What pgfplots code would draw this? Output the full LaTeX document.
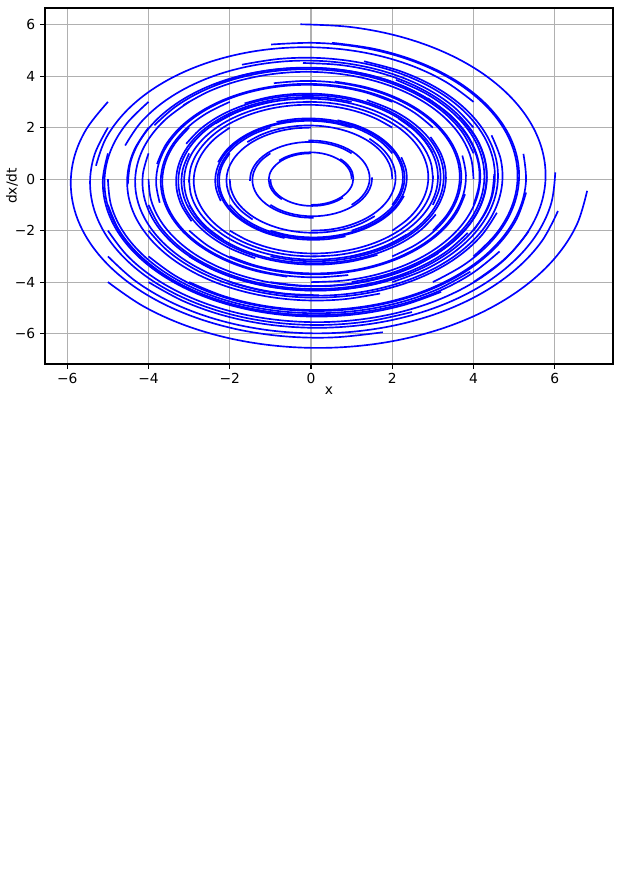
\documentclass[border=0pt]{standalone}
\usepackage{fontspec}
\setmainfont{DejaVu Sans}
\usepackage{pgfplots}
\pgfplotsset{compat=1.18}
\pgfplotsset{arcst/.style={data cs=polar, color=blue, line width=1.2pt, smooth, tension=0.6, no markers}}
\newcommand{\arc}[1]{\addplot[arcst] coordinates {#1};}
\begin{document}
\begin{tikzpicture}
\path[use as bounding box] (0,0) rectangle (6.24in,8.7in);
\begin{axis}[
  at={(0.45in,5.06in)}, anchor=south west,
  scale only axis, width=5.68in, height=3.56in,
  xmin=-6.549, xmax=7.434, ymin=-7.18, ymax=6.646,
  xtick={-6,-4,-2,0,2,4,6}, xticklabels={−6,−4,−2,0,2,4,6},
  ytick={-6,-4,-2,0,2,4,6}, yticklabels={−6,−4,−2,0,2,4,6},
  tick pos=left, tick align=outside, major tick length=3.5pt,
  tick style={black, line width=0.8pt},
  axis line style={black, line width=0.8pt},
  grid=major, major grid style={color=black!31, line width=0.8pt},
  ticklabel style={font=\fontsize{10}{12}\selectfont},
  label style={font=\fontsize{10}{12}\selectfont},
  xlabel={x}, ylabel={dx/dt},
  every axis x label/.style={at={(axis description cs:0.5,-0.076)}, anchor=center},
  every axis y label/.style={at={(axis description cs:-0.058,0.5)}, rotate=90, anchor=center},
]
\arc{(218.66,6.403) (230.12,6.436) (241.58,6.470) (253.04,6.503) (264.50,6.537) (275.96,6.571) (287.41,6.605) (298.87,6.639) (310.33,6.673) (321.79,6.708) (333.25,6.743) (344.71,6.778) (356.17,6.813)}
\arc{(210.96,5.831) (222.42,5.861) (233.88,5.892) (245.34,5.922) (256.80,5.953) (268.26,5.984) (279.71,6.015) (291.17,6.046) (302.63,6.077) (314.09,6.109) (325.55,6.140) (337.01,6.172) (348.47,6.204)}
\arc{(201.80,5.385) (213.26,5.413) (224.72,5.441) (236.18,5.469) (247.64,5.498) (259.10,5.526) (270.55,5.555) (282.01,5.584) (293.47,5.613) (304.93,5.642) (316.39,5.671) (327.85,5.700) (339.31,5.730)}
\arc{(191.31,5.099) (202.77,5.125) (214.23,5.152) (225.69,5.179) (237.15,5.206) (248.61,5.233) (260.06,5.260) (271.52,5.287) (282.98,5.314) (294.44,5.342) (305.90,5.370) (317.36,5.397) (328.82,5.425)}
\arc{(180,5) (191.46,5.026) (202.92,5.052) (214.38,5.078) (225.84,5.104) (237.30,5.131) (248.75,5.158) (260.21,5.184) (271.67,5.211) (283.13,5.238) (294.59,5.265) (306.05,5.293) (317.51,5.320)}
\arc{(168.69,5.099) (180.15,5.125) (191.61,5.152) (203.07,5.179) (214.53,5.206) (225.99,5.233) (237.44,5.260) (248.90,5.287) (260.36,5.314) (271.82,5.342) (283.28,5.370) (294.74,5.397) (306.20,5.425)}
\arc{(158.20,5.385) (169.66,5.413) (181.12,5.441) (192.58,5.469) (204.04,5.498) (215.50,5.526) (226.95,5.555) (238.41,5.584) (249.87,5.613) (261.33,5.642) (272.79,5.671) (284.25,5.700) (295.71,5.730)}
\arc{(149.04,5.831) (160.50,5.861) (171.96,5.892) (183.42,5.922) (194.88,5.953) (206.34,5.984) (217.79,6.015) (229.25,6.046) (240.71,6.077) (252.17,6.109) (263.63,6.140) (275.09,6.172) (286.55,6.204)}
\arc{(225,5.657) (236.46,5.686) (247.92,5.716) (259.38,5.745) (270.84,5.775) (282.30,5.805) (293.75,5.835) (305.21,5.865) (316.67,5.896) (328.13,5.926) (339.59,5.957) (351.05,5.988) (362.51,6.019)}
\arc{(216.87,5) (228.33,5.026) (239.79,5.052) (251.25,5.078) (262.71,5.104) (274.17,5.131) (285.62,5.158) (297.08,5.184) (308.54,5.211) (320.00,5.238) (331.46,5.265) (342.92,5.293) (354.38,5.320)}
\arc{(206.57,4.472) (218.03,4.495) (229.49,4.519) (240.95,4.542) (252.41,4.566) (263.87,4.589) (275.32,4.613) (286.78,4.637) (298.24,4.661) (309.70,4.685) (321.16,4.709) (332.62,4.734) (344.08,4.758)}
\arc{(194.04,4.123) (205.50,4.144) (216.96,4.166) (228.42,4.188) (239.88,4.209) (251.34,4.231) (262.79,4.253) (274.25,4.275) (285.71,4.297) (297.17,4.319) (308.63,4.342) (320.09,4.364) (331.55,4.387)}
\arc{(180,4) (191.46,4.021) (202.92,4.042) (214.38,4.062) (225.84,4.084) (237.30,4.105) (248.75,4.126) (260.21,4.147) (271.67,4.169) (283.13,4.190) (294.59,4.212) (306.05,4.234) (317.51,4.256)}
\arc{(165.96,4.123) (177.42,4.144) (188.88,4.166) (200.34,4.188) (211.80,4.209) (223.26,4.231) (234.71,4.253) (246.17,4.275) (257.63,4.297) (269.09,4.319) (280.55,4.342) (292.01,4.364) (303.47,4.387)}
\arc{(153.43,4.472) (164.89,4.495) (176.35,4.519) (187.81,4.542) (199.27,4.566) (210.73,4.589) (222.18,4.613) (233.64,4.637) (245.10,4.661) (256.56,4.685) (268.02,4.709) (279.48,4.734) (290.94,4.758)}
\arc{(143.13,5) (154.59,5.026) (166.05,5.052) (177.51,5.078) (188.97,5.104) (200.43,5.131) (211.88,5.158) (223.34,5.184) (234.80,5.211) (246.26,5.238) (257.72,5.265) (269.18,5.293) (280.64,5.320)}
\arc{(233.13,5) (244.59,5.026) (256.05,5.052) (267.51,5.078) (278.97,5.104) (290.43,5.131) (301.88,5.158) (313.34,5.184) (324.80,5.211) (336.26,5.238) (347.72,5.265) (359.18,5.293) (370.64,5.320)}
\arc{(225,4.243) (236.46,4.265) (247.92,4.287) (259.38,4.309) (270.84,4.331) (282.30,4.354) (293.75,4.376) (305.21,4.399) (316.67,4.422) (328.13,4.445) (339.59,4.468) (351.05,4.491) (362.51,4.514)}
\arc{(213.69,3.606) (225.15,3.624) (236.61,3.643) (248.07,3.662) (259.53,3.681) (270.99,3.700) (282.44,3.719) (293.90,3.738) (305.36,3.758) (316.82,3.777) (328.28,3.797) (339.74,3.817) (351.20,3.836)}
\arc{(198.43,3.162) (209.89,3.179) (221.35,3.195) (232.81,3.212) (244.27,3.228) (255.73,3.245) (267.18,3.262) (278.64,3.279) (290.10,3.296) (301.56,3.313) (313.02,3.330) (324.48,3.347) (335.94,3.365)}
\arc{(180,3) (191.46,3.016) (202.92,3.031) (214.38,3.047) (225.84,3.063) (237.30,3.079) (248.75,3.095) (260.21,3.111) (271.67,3.127) (283.13,3.143) (294.59,3.159) (306.05,3.176) (317.51,3.192)}
\arc{(161.57,3.162) (173.03,3.179) (184.49,3.195) (195.95,3.212) (207.41,3.228) (218.87,3.245) (230.32,3.262) (241.78,3.279) (253.24,3.296) (264.70,3.313) (276.16,3.330) (287.62,3.347) (299.08,3.365)}
\arc{(146.31,3.606) (157.77,3.624) (169.23,3.643) (180.69,3.662) (192.15,3.681) (203.61,3.700) (215.06,3.719) (226.52,3.738) (237.98,3.758) (249.44,3.777) (260.90,3.797) (272.36,3.817) (283.82,3.836)}
\arc{(135,4.243) (146.46,4.265) (157.92,4.287) (169.38,4.309) (180.84,4.331) (192.30,4.354) (203.75,4.376) (215.21,4.399) (226.67,4.422) (238.13,4.445) (249.59,4.468) (261.05,4.491) (272.51,4.514)}
\arc{(243.43,4.472) (254.89,4.495) (266.35,4.519) (277.81,4.542) (289.27,4.566) (300.73,4.589) (312.18,4.613) (323.64,4.637) (335.10,4.661) (346.56,4.685) (358.02,4.709) (369.48,4.734) (380.94,4.758)}
\arc{(236.31,3.606) (247.77,3.624) (259.23,3.643) (270.69,3.662) (282.15,3.681) (293.61,3.700) (305.06,3.719) (316.52,3.738) (327.98,3.758) (339.44,3.777) (350.90,3.797) (362.36,3.817) (373.82,3.836)}
\arc{(225,2.828) (236.46,2.843) (247.92,2.858) (259.38,2.873) (270.84,2.888) (282.30,2.902) (293.75,2.918) (305.21,2.933) (316.67,2.948) (328.13,2.963) (339.59,2.978) (351.05,2.994) (362.51,3.009)}
\arc{(206.57,2.236) (218.03,2.248) (229.49,2.259) (240.95,2.271) (252.41,2.283) (263.87,2.295) (275.32,2.307) (286.78,2.318) (298.24,2.331) (309.70,2.343) (321.16,2.355) (332.62,2.367) (344.08,2.379)}
\arc{(180,2) (191.46,2.010) (202.92,2.021) (214.38,2.031) (225.84,2.042) (237.30,2.052) (248.75,2.063) (260.21,2.074) (271.67,2.084) (283.13,2.095) (294.59,2.106) (306.05,2.117) (317.51,2.128)}
\arc{(153.43,2.236) (164.89,2.248) (176.35,2.259) (187.81,2.271) (199.27,2.283) (210.73,2.295) (222.18,2.307) (233.64,2.318) (245.10,2.331) (256.56,2.343) (268.02,2.355) (279.48,2.367) (290.94,2.379)}
\arc{(135,2.828) (146.46,2.843) (157.92,2.858) (169.38,2.873) (180.84,2.888) (192.30,2.902) (203.75,2.918) (215.21,2.933) (226.67,2.948) (238.13,2.963) (249.59,2.978) (261.05,2.994) (272.51,3.009)}
\arc{(123.69,3.606) (135.15,3.624) (146.61,3.643) (158.07,3.662) (169.53,3.681) (180.99,3.700) (192.44,3.719) (203.90,3.738) (215.36,3.758) (226.82,3.777) (238.28,3.797) (249.74,3.817) (261.20,3.836)}
\arc{(255.96,4.123) (267.42,4.144) (278.88,4.166) (290.34,4.188) (301.80,4.209) (313.26,4.231) (324.71,4.253) (336.17,4.275) (347.63,4.297) (359.09,4.319) (370.55,4.342) (382.01,4.364) (393.47,4.387)}
\arc{(251.57,3.162) (263.03,3.179) (274.49,3.195) (285.95,3.212) (297.41,3.228) (308.87,3.245) (320.32,3.262) (331.78,3.279) (343.24,3.296) (354.70,3.313) (366.16,3.330) (377.62,3.347) (389.08,3.365)}
\arc{(243.43,2.236) (254.89,2.248) (266.35,2.259) (277.81,2.271) (289.27,2.283) (300.73,2.295) (312.18,2.307) (323.64,2.318) (335.10,2.331) (346.56,2.343) (358.02,2.355) (369.48,2.367) (380.94,2.379)}
\arc{(225,1.414) (236.46,1.422) (247.92,1.429) (259.38,1.436) (270.84,1.444) (282.30,1.451) (293.75,1.459) (305.21,1.466) (316.67,1.474) (328.13,1.482) (339.59,1.489) (351.05,1.497) (362.51,1.505)}
\arc{(180,1) (191.46,1.005) (202.92,1.010) (214.38,1.016) (225.84,1.021) (237.30,1.026) (248.75,1.032) (260.21,1.037) (271.67,1.042) (283.13,1.048) (294.59,1.053) (306.05,1.059) (317.51,1.064)}
\arc{(135,1.414) (146.46,1.422) (157.92,1.429) (169.38,1.436) (180.84,1.444) (192.30,1.451) (203.75,1.459) (215.21,1.466) (226.67,1.474) (238.13,1.482) (249.59,1.489) (261.05,1.497) (272.51,1.505)}
\arc{(116.57,2.236) (128.03,2.248) (139.49,2.259) (150.95,2.271) (162.41,2.283) (173.87,2.295) (185.32,2.307) (196.78,2.318) (208.24,2.331) (219.70,2.343) (231.16,2.355) (242.62,2.367) (254.08,2.379)}
\arc{(108.43,3.162) (119.89,3.179) (131.35,3.195) (142.81,3.212) (154.27,3.228) (165.73,3.245) (177.18,3.262) (188.64,3.279) (200.10,3.296) (211.56,3.313) (223.02,3.330) (234.48,3.347) (245.94,3.365)}
\arc{(270,4) (281.46,4.021) (292.92,4.042) (304.38,4.062) (315.84,4.084) (327.30,4.105) (338.75,4.126) (350.21,4.147) (361.67,4.169) (373.13,4.190) (384.59,4.212) (396.05,4.234) (407.51,4.256)}
\arc{(270,3) (281.46,3.016) (292.92,3.031) (304.38,3.047) (315.84,3.063) (327.30,3.079) (338.75,3.095) (350.21,3.111) (361.67,3.127) (373.13,3.143) (384.59,3.159) (396.05,3.176) (407.51,3.192)}
\arc{(270,2) (281.46,2.010) (292.92,2.021) (304.38,2.031) (315.84,2.042) (327.30,2.052) (338.75,2.063) (350.21,2.074) (361.67,2.084) (373.13,2.095) (384.59,2.106) (396.05,2.117) (407.51,2.128)}
\arc{(270,1) (281.46,1.005) (292.92,1.010) (304.38,1.016) (315.84,1.021) (327.30,1.026) (338.75,1.032) (350.21,1.037) (361.67,1.042) (373.13,1.048) (384.59,1.053) (396.05,1.059) (407.51,1.064)}
\arc{(90,1) (101.46,1.005) (112.92,1.010) (124.38,1.016) (135.84,1.021) (147.30,1.026) (158.75,1.032) (170.21,1.037) (181.67,1.042) (193.13,1.048) (204.59,1.053) (216.05,1.059) (227.51,1.064)}
\arc{(90,2) (101.46,2.010) (112.92,2.021) (124.38,2.031) (135.84,2.042) (147.30,2.052) (158.75,2.063) (170.21,2.074) (181.67,2.084) (193.13,2.095) (204.59,2.106) (216.05,2.117) (227.51,2.128)}
\arc{(90,3) (101.46,3.016) (112.92,3.031) (124.38,3.047) (135.84,3.063) (147.30,3.079) (158.75,3.095) (170.21,3.111) (181.67,3.127) (193.13,3.143) (204.59,3.159) (216.05,3.176) (227.51,3.192)}
\arc{(284.04,4.123) (295.50,4.144) (306.96,4.166) (318.42,4.188) (329.88,4.209) (341.34,4.231) (352.79,4.253) (364.25,4.275) (375.71,4.297) (387.17,4.319) (398.63,4.342) (410.09,4.364) (421.55,4.387)}
\arc{(288.43,3.162) (299.89,3.179) (311.35,3.195) (322.81,3.212) (334.27,3.228) (345.73,3.245) (357.18,3.262) (368.64,3.279) (380.10,3.296) (391.56,3.313) (403.02,3.330) (414.48,3.347) (425.94,3.365)}
\arc{(296.57,2.236) (308.03,2.248) (319.49,2.259) (330.95,2.271) (342.41,2.283) (353.87,2.295) (365.32,2.307) (376.78,2.318) (388.24,2.331) (399.70,2.343) (411.16,2.355) (422.62,2.367) (434.08,2.379)}
\arc{(315,1.414) (326.46,1.422) (337.92,1.429) (349.38,1.436) (360.84,1.444) (372.30,1.451) (383.75,1.459) (395.21,1.466) (406.67,1.474) (418.13,1.482) (429.59,1.489) (441.05,1.497) (452.51,1.505)}
\arc{(0,1) (11.46,1.005) (22.92,1.010) (34.38,1.016) (45.84,1.021) (57.30,1.026) (68.75,1.032) (80.21,1.037) (91.67,1.042) (103.13,1.048) (114.59,1.053) (126.05,1.059) (137.51,1.064)}
\arc{(45,1.414) (56.46,1.422) (67.92,1.429) (79.38,1.436) (90.84,1.444) (102.30,1.451) (113.75,1.459) (125.21,1.466) (136.67,1.474) (148.13,1.482) (159.59,1.489) (171.05,1.497) (182.51,1.505)}
\arc{(63.43,2.236) (74.89,2.248) (86.35,2.259) (97.81,2.271) (109.27,2.283) (120.73,2.295) (132.18,2.307) (143.64,2.318) (155.10,2.331) (166.56,2.343) (178.02,2.355) (189.48,2.367) (200.94,2.379)}
\arc{(71.57,3.162) (83.03,3.179) (94.49,3.195) (105.95,3.212) (117.41,3.228) (128.87,3.245) (140.32,3.262) (151.78,3.279) (163.24,3.296) (174.70,3.313) (186.16,3.330) (197.62,3.347) (209.08,3.365)}
\arc{(296.57,4.472) (308.03,4.495) (319.49,4.519) (330.95,4.542) (342.41,4.566) (353.87,4.589) (365.32,4.613) (376.78,4.637) (388.24,4.661) (399.70,4.685) (411.16,4.709) (422.62,4.734) (434.08,4.758)}
\arc{(303.69,3.606) (315.15,3.624) (326.61,3.643) (338.07,3.662) (349.53,3.681) (360.99,3.700) (372.44,3.719) (383.90,3.738) (395.36,3.758) (406.82,3.777) (418.28,3.797) (429.74,3.817) (441.20,3.836)}
\arc{(315,2.828) (326.46,2.843) (337.92,2.858) (349.38,2.873) (360.84,2.888) (372.30,2.902) (383.75,2.918) (395.21,2.933) (406.67,2.948) (418.13,2.963) (429.59,2.978) (441.05,2.994) (452.51,3.009)}
\arc{(333.43,2.236) (344.89,2.248) (356.35,2.259) (367.81,2.271) (379.27,2.283) (390.73,2.295) (402.18,2.307) (413.64,2.318) (425.10,2.331) (436.56,2.343) (448.02,2.355) (459.48,2.367) (470.94,2.379)}
\arc{(0,2) (11.46,2.010) (22.92,2.021) (34.38,2.031) (45.84,2.042) (57.30,2.052) (68.75,2.063) (80.21,2.074) (91.67,2.084) (103.13,2.095) (114.59,2.106) (126.05,2.117) (137.51,2.128)}
\arc{(26.57,2.236) (38.03,2.248) (49.49,2.259) (60.95,2.271) (72.41,2.283) (83.87,2.295) (95.32,2.307) (106.78,2.318) (118.24,2.331) (129.70,2.343) (141.16,2.355) (152.62,2.367) (164.08,2.379)}
\arc{(45,2.828) (56.46,2.843) (67.92,2.858) (79.38,2.873) (90.84,2.888) (102.30,2.902) (113.75,2.918) (125.21,2.933) (136.67,2.948) (148.13,2.963) (159.59,2.978) (171.05,2.994) (182.51,3.009)}
\arc{(56.31,3.606) (67.77,3.624) (79.23,3.643) (90.69,3.662) (102.15,3.681) (113.61,3.700) (125.06,3.719) (136.52,3.738) (147.98,3.758) (159.44,3.777) (170.90,3.797) (182.36,3.817) (193.82,3.836)}
\arc{(306.87,5) (318.33,5.026) (329.79,5.052) (341.25,5.078) (352.71,5.104) (364.17,5.131) (375.62,5.158) (387.08,5.184) (398.54,5.211) (410.00,5.238) (421.46,5.265) (432.92,5.293) (444.38,5.320)}
\arc{(315,4.243) (326.46,4.265) (337.92,4.287) (349.38,4.309) (360.84,4.331) (372.30,4.354) (383.75,4.376) (395.21,4.399) (406.67,4.422) (418.13,4.445) (429.59,4.468) (441.05,4.491) (452.51,4.514)}
\arc{(326.31,3.606) (337.77,3.624) (349.23,3.643) (360.69,3.662) (372.15,3.681) (383.61,3.700) (395.06,3.719) (406.52,3.738) (417.98,3.758) (429.44,3.777) (440.90,3.797) (452.36,3.817) (463.82,3.836)}
\arc{(341.57,3.162) (353.03,3.179) (364.49,3.195) (375.95,3.212) (387.41,3.228) (398.87,3.245) (410.32,3.262) (421.78,3.279) (433.24,3.296) (444.70,3.313) (456.16,3.330) (467.62,3.347) (479.08,3.365)}
\arc{(0,3) (11.46,3.016) (22.92,3.031) (34.38,3.047) (45.84,3.063) (57.30,3.079) (68.75,3.095) (80.21,3.111) (91.67,3.127) (103.13,3.143) (114.59,3.159) (126.05,3.176) (137.51,3.192)}
\arc{(18.43,3.162) (29.89,3.179) (41.35,3.195) (52.81,3.212) (64.27,3.228) (75.73,3.245) (87.18,3.262) (98.64,3.279) (110.10,3.296) (121.56,3.313) (133.02,3.330) (144.48,3.347) (155.94,3.365)}
\arc{(33.69,3.606) (45.15,3.624) (56.61,3.643) (68.07,3.662) (79.53,3.681) (90.99,3.700) (102.44,3.719) (113.90,3.738) (125.36,3.758) (136.82,3.777) (148.28,3.797) (159.74,3.817) (171.20,3.836)}
\arc{(45,4.243) (56.46,4.265) (67.92,4.287) (79.38,4.309) (90.84,4.331) (102.30,4.354) (113.75,4.376) (125.21,4.399) (136.67,4.422) (148.13,4.445) (159.59,4.468) (171.05,4.491) (182.51,4.514)}
\arc{(315,5.657) (326.46,5.686) (337.92,5.716) (349.38,5.745) (360.84,5.775) (372.30,5.805) (383.75,5.835) (395.21,5.865) (406.67,5.896) (418.13,5.926) (429.59,5.957) (441.05,5.988) (452.51,6.019)}
\arc{(323.13,5) (334.59,5.026) (346.05,5.052) (357.51,5.078) (368.97,5.104) (380.43,5.131) (391.88,5.158) (403.34,5.184) (414.80,5.211) (426.26,5.238) (437.72,5.265) (449.18,5.293) (460.64,5.320)}
\arc{(333.43,4.472) (344.89,4.495) (356.35,4.519) (367.81,4.542) (379.27,4.566) (390.73,4.589) (402.18,4.613) (413.64,4.637) (425.10,4.661) (436.56,4.685) (448.02,4.709) (459.48,4.734) (470.94,4.758)}
\arc{(345.96,4.123) (357.42,4.144) (368.88,4.166) (380.34,4.188) (391.80,4.209) (403.26,4.231) (414.71,4.253) (426.17,4.275) (437.63,4.297) (449.09,4.319) (460.55,4.342) (472.01,4.364) (483.47,4.387)}
\arc{(0,4) (11.46,4.021) (22.92,4.042) (34.38,4.062) (45.84,4.084) (57.30,4.105) (68.75,4.126) (80.21,4.147) (91.67,4.169) (103.13,4.190) (114.59,4.212) (126.05,4.234) (137.51,4.256)}
\arc{(14.04,4.123) (25.50,4.144) (36.96,4.166) (48.42,4.188) (59.88,4.209) (71.34,4.231) (82.79,4.253) (94.25,4.275) (105.71,4.297) (117.17,4.319) (128.63,4.342) (140.09,4.364) (151.55,4.387)}
\arc{(26.57,4.472) (38.03,4.495) (49.49,4.519) (60.95,4.542) (72.41,4.566) (83.87,4.589) (95.32,4.613) (106.78,4.637) (118.24,4.661) (129.70,4.685) (141.16,4.709) (152.62,4.734) (164.08,4.758)}
\arc{(36.87,5) (48.33,5.026) (59.79,5.052) (71.25,5.078) (82.71,5.104) (94.17,5.131) (105.62,5.158) (117.08,5.184) (128.54,5.211) (140.00,5.238) (151.46,5.265) (162.92,5.293) (174.38,5.320)}
\end{axis}
\end{tikzpicture}
\end{document}
